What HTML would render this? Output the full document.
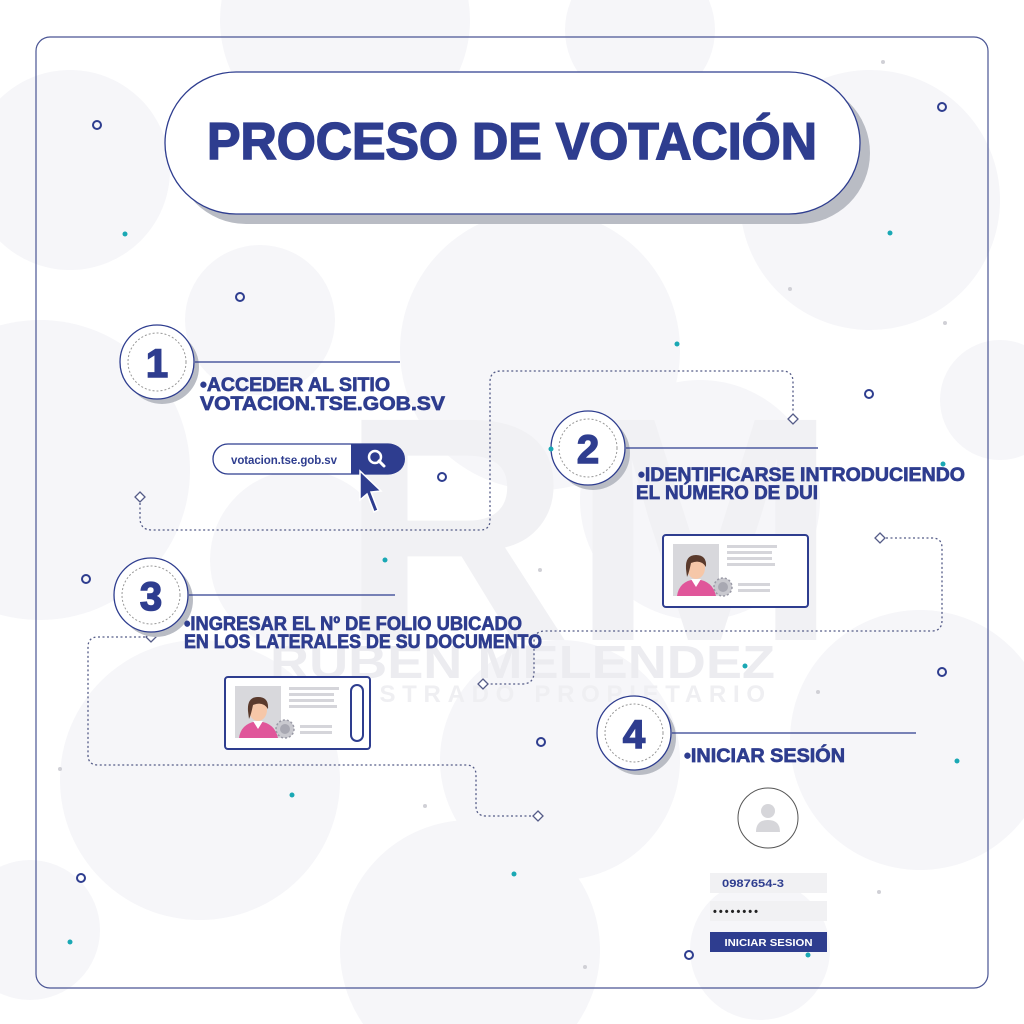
<!DOCTYPE html>
<html><head><meta charset="utf-8"><style>
html,body{margin:0;padding:0;background:#fff;width:1024px;height:1024px;overflow:hidden}
svg{display:block}
text{font-family:"Liberation Sans",sans-serif;font-weight:bold}
.h{stroke:#2e3d8f;stroke-width:0.7}
</style></head><body>
<svg width="1024" height="1024" viewBox="0 0 1024 1024" xmlns="http://www.w3.org/2000/svg">
<defs>
<g id="card">
  <rect x="0" y="0" width="145" height="72" rx="3" fill="#fff" stroke="#2e3d8f" stroke-width="2"/>
  <rect x="10" y="9" width="46" height="52" fill="#d8d8dc"/>
  <path d="M14 61 Q16 46 33 44 Q50 46 53 61Z" fill="#e0569a"/>
  <path d="M28 44 L33 52 L38 44Z" fill="#fff"/>
  <ellipse cx="33" cy="33" rx="9" ry="11" fill="#f6c7a8"/>
  <path d="M23 34 Q22 20 33 20 Q44 20 43 32 Q38 24 28 28 Q26 38 24 42Z" fill="#5a3a2c"/>
  <circle cx="60" cy="52" r="9" fill="#c9c9cf" stroke="#9a9aa6" stroke-width="1.5" stroke-dasharray="2 2"/>
  <circle cx="60" cy="52" r="5" fill="#a8a8b2"/>
  <rect x="64" y="10" width="50" height="3" fill="#d5d5da"/>
  <rect x="64" y="16" width="45" height="3" fill="#d5d5da"/>
  <rect x="64" y="22" width="45" height="3" fill="#d5d5da"/>
  <rect x="64" y="28" width="48" height="3" fill="#d5d5da"/>
  <rect x="75" y="48" width="32" height="3" fill="#d5d5da"/>
  <rect x="75" y="54" width="32" height="3" fill="#d5d5da"/>
</g>
</defs>
<g fill="#f6f6f9">
  <circle cx="345" cy="20" r="125"/><circle cx="640" cy="30" r="75"/>
  <circle cx="70" cy="170" r="100"/><circle cx="870" cy="200" r="130"/>
  <circle cx="260" cy="320" r="75"/><circle cx="540" cy="350" r="140"/>
  <circle cx="40" cy="470" r="150"/><circle cx="1000" cy="400" r="60"/>
  <circle cx="300" cy="560" r="90"/><circle cx="700" cy="500" r="120"/>
  <circle cx="200" cy="780" r="140"/><circle cx="560" cy="760" r="120"/>
  <circle cx="920" cy="740" r="130"/><circle cx="30" cy="930" r="70"/>
  <circle cx="470" cy="950" r="130"/><circle cx="760" cy="950" r="70"/>
</g>
<rect x="36" y="37" width="952" height="951" rx="14" fill="none" stroke="#4a5594" stroke-width="1.2"/>
<g>
  <text x="340" y="640" font-size="320" fill="#f1f1f4">RM</text>
  <text x="270" y="678" font-size="46" fill="#ececf0" textLength="505" lengthAdjust="spacingAndGlyphs">RUBEN MELENDEZ</text>
  <text x="290" y="702" font-size="24" fill="#efeff2" textLength="475" font-weight="normal">MAGISTRADO PROPIETARIO</text>
</g>
<rect x="175" y="82" width="695" height="142" rx="71" fill="#b9bcc4"/>
<rect x="165" y="72" width="695" height="142" rx="71" fill="#fff" stroke="#2e3d8f" stroke-width="1.3"/>
<text x="207" y="159" font-size="52" fill="#2e3d8f" class="h" style="stroke-width:1.5" textLength="610" lengthAdjust="spacingAndGlyphs">PROCESO DE VOTACIÓN</text>
<g fill="none" stroke="#555c88" stroke-width="1.3" stroke-dasharray="2 2.5">
  <path d="M140 503 V518 Q140 530 152 530 H480 Q490 530 490 520 V382 Q490 371 501 371 H782 Q793 371 793 382 V413"/>
  <path d="M886 538 H932 Q942 538 942 548 V620 Q942 631 932 631 H545 Q534 631 534 642 V672 Q534 684 522 684 H489"/>
  <path d="M145 637 H98 Q88 637 88 647 V755 Q88 765 98 765 H466 Q476 765 476 775 V806 Q476 816 486 816 H532"/>
</g>
<g fill="#fff" stroke="#555c88" stroke-width="1.3">
  <path d="M140 492 l5 5 l-5 5 l-5 -5z"/><path d="M793 414 l5 5 l-5 5 l-5 -5z"/>
  <path d="M880 533 l5 5 l-5 5 l-5 -5z"/><path d="M483 679 l5 5 l-5 5 l-5 -5z"/>
  <path d="M151 632 l5 5 l-5 5 l-5 -5z"/><path d="M538 811 l5 5 l-5 5 l-5 -5z"/>
</g>
<g>
  <circle cx="162" cy="367" r="37" fill="#b9bcc4"/>
  <circle cx="157" cy="362" r="37" fill="#fff" stroke="#2e3d8f" stroke-width="1.3"/>
  <circle cx="157" cy="362" r="29" fill="none" stroke="#999" stroke-width="1" stroke-dasharray="2 2"/>
  <text x="157" y="377" font-size="40" fill="#2e3d8f" class="h" style="stroke-width:1.5" text-anchor="middle">1</text>
  <line x1="195" y1="362" x2="400" y2="362" stroke="#2e3d8f" stroke-width="1.2"/>

  <circle cx="593" cy="453" r="37" fill="#b9bcc4"/>
  <circle cx="588" cy="448" r="37" fill="#fff" stroke="#2e3d8f" stroke-width="1.3"/>
  <circle cx="588" cy="448" r="29" fill="none" stroke="#999" stroke-width="1" stroke-dasharray="2 2"/>
  <text x="588" y="463" font-size="40" fill="#2e3d8f" class="h" style="stroke-width:1.5" text-anchor="middle">2</text>
  <line x1="626" y1="448" x2="818" y2="448" stroke="#2e3d8f" stroke-width="1.2"/>

  <circle cx="156" cy="600" r="37" fill="#b9bcc4"/>
  <circle cx="151" cy="595" r="37" fill="#fff" stroke="#2e3d8f" stroke-width="1.3"/>
  <circle cx="151" cy="595" r="29" fill="none" stroke="#999" stroke-width="1" stroke-dasharray="2 2"/>
  <text x="151" y="610" font-size="40" fill="#2e3d8f" class="h" style="stroke-width:1.5" text-anchor="middle">3</text>
  <line x1="189" y1="595" x2="395" y2="595" stroke="#2e3d8f" stroke-width="1.2"/>

  <circle cx="639" cy="738" r="37" fill="#b9bcc4"/>
  <circle cx="634" cy="733" r="37" fill="#fff" stroke="#2e3d8f" stroke-width="1.3"/>
  <circle cx="634" cy="733" r="29" fill="none" stroke="#999" stroke-width="1" stroke-dasharray="2 2"/>
  <text x="634" y="748" font-size="40" fill="#2e3d8f" class="h" style="stroke-width:1.5" text-anchor="middle">4</text>
  <line x1="672" y1="733" x2="916" y2="733" stroke="#2e3d8f" stroke-width="1.2"/>
</g>
<g fill="#2e3d8f" font-size="19" class="h">
  <text x="200" y="391" textLength="190" lengthAdjust="spacingAndGlyphs">•ACCEDER AL SITIO</text>
  <text x="200" y="410" textLength="245" lengthAdjust="spacingAndGlyphs">VOTACION.TSE.GOB.SV</text>
  <text x="638" y="481" textLength="327" lengthAdjust="spacingAndGlyphs">•IDENTIFICARSE INTRODUCIENDO</text>
  <text x="636" y="499" textLength="182" lengthAdjust="spacingAndGlyphs">EL NÚMERO DE DUI</text>
  <text x="184" y="630" textLength="338" lengthAdjust="spacingAndGlyphs">•INGRESAR EL Nº DE FOLIO UBICADO</text>
  <text x="184" y="648" textLength="358" lengthAdjust="spacingAndGlyphs">EN LOS LATERALES DE SU DOCUMENTO</text>
  <text x="684" y="762" textLength="161" lengthAdjust="spacingAndGlyphs">•INICIAR SESIÓN</text>
</g>
<rect x="213" y="444" width="190" height="30" rx="15" fill="#fff" stroke="#2e3d8f" stroke-width="1.3"/>
<path d="M351 444 H390 A15 15 0 0 1 390 474 H351Z" fill="#2e3d8f"/>
<text x="231" y="464" font-size="11.5" font-weight="normal" fill="#2e3d8f" textLength="106">votacion.tse.gob.sv</text>
<circle cx="375" cy="457" r="6" fill="none" stroke="#fff" stroke-width="2.5"/>
<line x1="379" y1="461" x2="384" y2="466" stroke="#fff" stroke-width="3" stroke-linecap="round"/>
<path d="M360 471 L360 500 L367 494 L374 512 L378 510 L371 492 L381 491Z" fill="#2e3d8f" stroke="#fff" stroke-width="1.5"/>
<use href="#card" x="663" y="535"/>
<g transform="translate(225,677)">
  <use href="#card"/>
  <rect x="126" y="8" width="12" height="56" rx="6" fill="#fff" stroke="#2e3d8f" stroke-width="2"/>
</g>
<circle cx="768" cy="818" r="30" fill="#fff" stroke="#555" stroke-width="1"/>
<circle cx="768" cy="811" r="7" fill="#d6d6da"/>
<path d="M756 832 Q756 820 768 820 Q780 820 780 832Z" fill="#d6d6da"/>
<rect x="710" y="873" width="117" height="20" fill="#f1f1f3"/>
<text x="722" y="887" font-size="11" fill="#2e3d8f" textLength="62" lengthAdjust="spacingAndGlyphs">0987654-3</text>
<rect x="710" y="901" width="117" height="20" fill="#f1f1f3"/>
<text x="713" y="915" font-size="11" fill="#222" textLength="45">••••••••</text>
<rect x="710" y="932" width="117" height="20" fill="#2e3d8f"/>
<text x="768.5" y="946" font-size="10" fill="#fff" text-anchor="middle" textLength="88" lengthAdjust="spacingAndGlyphs">INICIAR SESION</text>
<g fill="none" stroke="#2e3d8f" stroke-width="2">
  <circle cx="97" cy="125" r="4"/><circle cx="942" cy="107" r="4"/><circle cx="240" cy="297" r="4"/>
  <circle cx="869" cy="394" r="4"/><circle cx="442" cy="477" r="4"/><circle cx="86" cy="579" r="4"/>
  <circle cx="942" cy="672" r="4"/><circle cx="541" cy="742" r="4"/><circle cx="81" cy="878" r="4"/>
  <circle cx="689" cy="955" r="4"/>
</g>
<g fill="#1aa8b4">
  <circle cx="125" cy="234" r="2.5"/><circle cx="890" cy="233" r="2.5"/><circle cx="677" cy="344" r="2.5"/>
  <circle cx="551" cy="449" r="2.5"/><circle cx="943" cy="464" r="2.5"/><circle cx="385" cy="560" r="2.5"/>
  <circle cx="745" cy="666" r="2.5"/><circle cx="957" cy="761" r="2.5"/><circle cx="292" cy="795" r="2.5"/>
  <circle cx="514" cy="874" r="2.5"/><circle cx="70" cy="942" r="2.5"/><circle cx="808" cy="955" r="2.5"/>
</g>
<g fill="#d0d0d6">
  <circle cx="883" cy="62" r="2"/><circle cx="790" cy="289" r="2"/><circle cx="945" cy="323" r="2"/>
  <circle cx="540" cy="570" r="2"/><circle cx="818" cy="692" r="2"/><circle cx="60" cy="769" r="2"/>
  <circle cx="425" cy="806" r="2"/><circle cx="879" cy="892" r="2"/><circle cx="585" cy="967" r="2"/>
</g>
</svg>
</body></html>
